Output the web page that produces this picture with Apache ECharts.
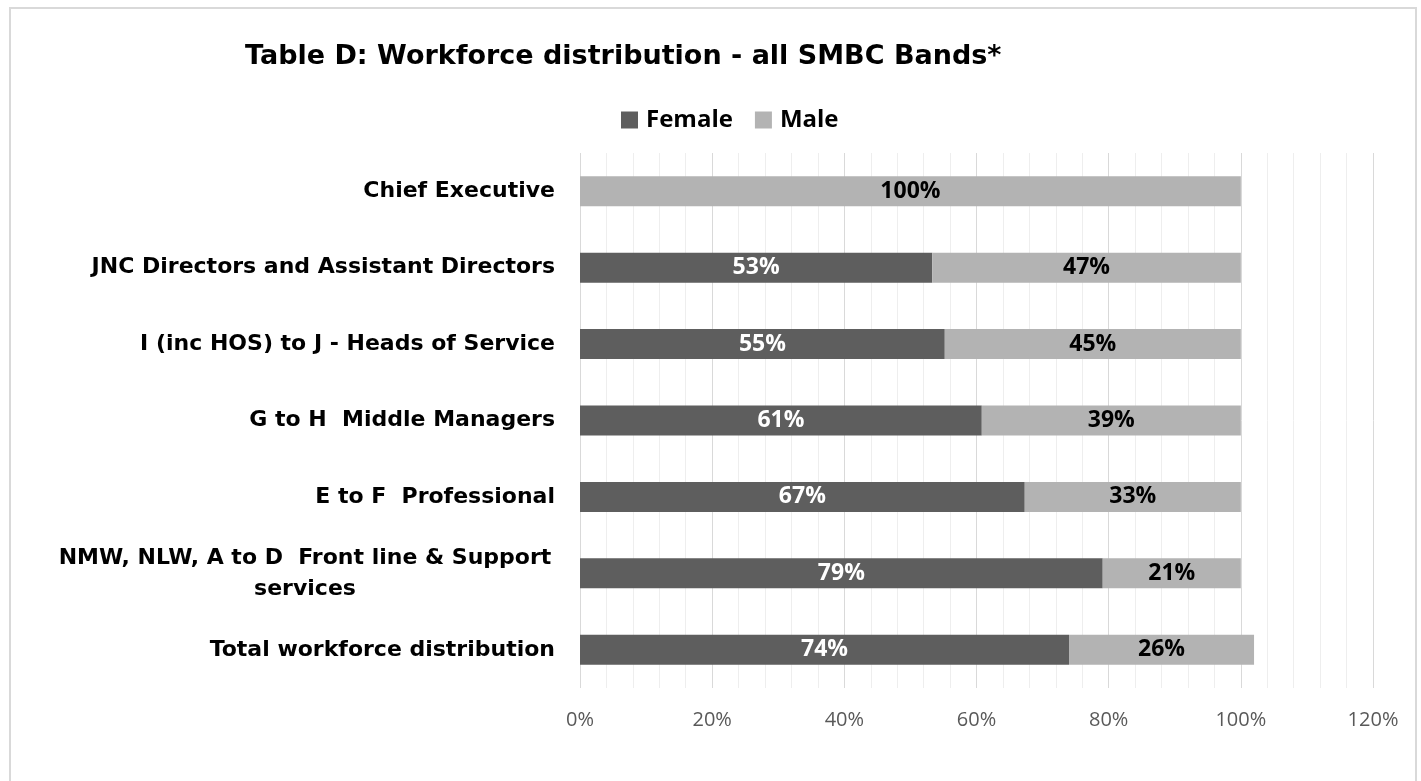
<!DOCTYPE html>
<html>
<head>
<meta charset="utf-8">
<title>Table D: Workforce distribution</title>
<script src="https://cdn.jsdelivr.net/npm/echarts@6/dist/echarts.min.js"></script>
<style>
    html, body { margin: 0; padding: 0; background: #fff; }
    #chart { width: 1421px; height: 781px; }
</style>
</head>
<body>
<div id="chart"></div>
<script>
// categories top to bottom
const bands = [
    'Chief Executive',
    'JNC Directors and Assistant Directors',
    'I (inc HOS) to J - Heads of Service',
    'G to H  Middle Managers',
    'E to F  Professional',
    'NMW, NLW, A to D  Front line & Support\nservices',
    'Total workforce distribution'
];
const female = [0, 53.3, 55.2, 60.8, 67.3, 79.1, 74.0];
const male = [100, 46.7, 44.8, 39.2, 32.7, 20.9, 28.0];
// label texts as printed on the bars
const femaleLabels = ['', '53%', '55%', '61%', '67%', '79%', '74%'];
const maleLabels = ['100%', '47%', '45%', '39%', '33%', '21%', '26%'];
const xTicks = [0, 20, 40, 60, 80, 100, 120];

const labelFont = '"Open Sans", Lato, sans-serif';
const catFont = '"DejaVu Sans", sans-serif';

const chart = echarts.init(document.getElementById('chart'));
chart.setOption({
    animation: false,
    title: {
        text: 'Table D: Workforce distribution - all SMBC Bands*',
        left: 240,
        top: 38,
        textStyle: {
            fontFamily: catFont,
            fontSize: 27,
            fontWeight: 'bold',
            color: '#000'
        }
    },
    legend: {
        left: 616,
        top: 103,
        icon: 'rect',
        itemWidth: 17,
        itemHeight: 17,
        itemGap: 22,
        textStyle: {
            fontFamily: labelFont,
            fontSize: 24,
            fontWeight: 'bold',
            color: '#000',
            padding: [0, 0, 0, 3]
        }
    },
    grid: {
        left: 580,
        right: 48,
        top: 153,
        bottom: 93
    },
    graphic: [{
        type: 'rect',
        shape: { x: 10, y: 8, width: 1406, height: 800 },
        style: { fill: 'none', stroke: '#d9d9d9', lineWidth: 2 },
        silent: true
    }],
    xAxis: {
        type: 'value',
        min: xTicks[0],
        max: xTicks[xTicks.length - 1],
        interval: 20,
        axisLine: { show: false },
        axisTick: { show: false },
        axisLabel: {
            margin: 22,
            color: '#595959',
            fontFamily: labelFont,
            fontSize: 20,
            formatter: v => v + '%'
        },
        splitLine: { show: true, lineStyle: { color: '#d9d9d9', width: 1 } },
        minorTick: { show: false, splitNumber: 5 },
        minorSplitLine: { show: true, lineStyle: { color: '#eeeeee', width: 1 } }
    },
    yAxis: {
        type: 'category',
        inverse: true,
        data: bands,
        axisLine: { show: false },
        axisTick: { show: false },
        axisLabel: {
            margin: 25,
            color: '#000',
            fontFamily: catFont,
            fontSize: 22,
            fontWeight: 'bold',
            formatter: v => v.indexOf('\n') >= 0
                ? v.split('\n').map(s => '{c|' + s + '}').join('\n')
                : v,
            rich: {
                c: {
                    width: 500,
                    align: 'center',
                    lineHeight: 31,
                    fontFamily: catFont,
                    fontSize: 22,
                    fontWeight: 'bold',
                    color: '#000'
                }
            }
        }
    },
    series: [
        {
            name: 'Female',
            type: 'bar',
            stack: 'band',
            barWidth: 30,
            data: female,
            itemStyle: { color: '#5e5e5e' },
            label: {
                show: true,
                position: 'inside',
                color: '#fff',
                fontFamily: labelFont,
                fontSize: 23,
                fontWeight: 'bold',
                formatter: p => femaleLabels[p.dataIndex]
            }
        },
        {
            name: 'Male',
            type: 'bar',
            stack: 'band',
            barWidth: 30,
            data: male,
            itemStyle: { color: '#b3b3b3' },
            label: {
                show: true,
                position: 'inside',
                color: '#000',
                fontFamily: labelFont,
                fontSize: 23,
                fontWeight: 'bold',
                formatter: p => maleLabels[p.dataIndex]
            }
        }
    ]
});
</script>
</body>
</html>
